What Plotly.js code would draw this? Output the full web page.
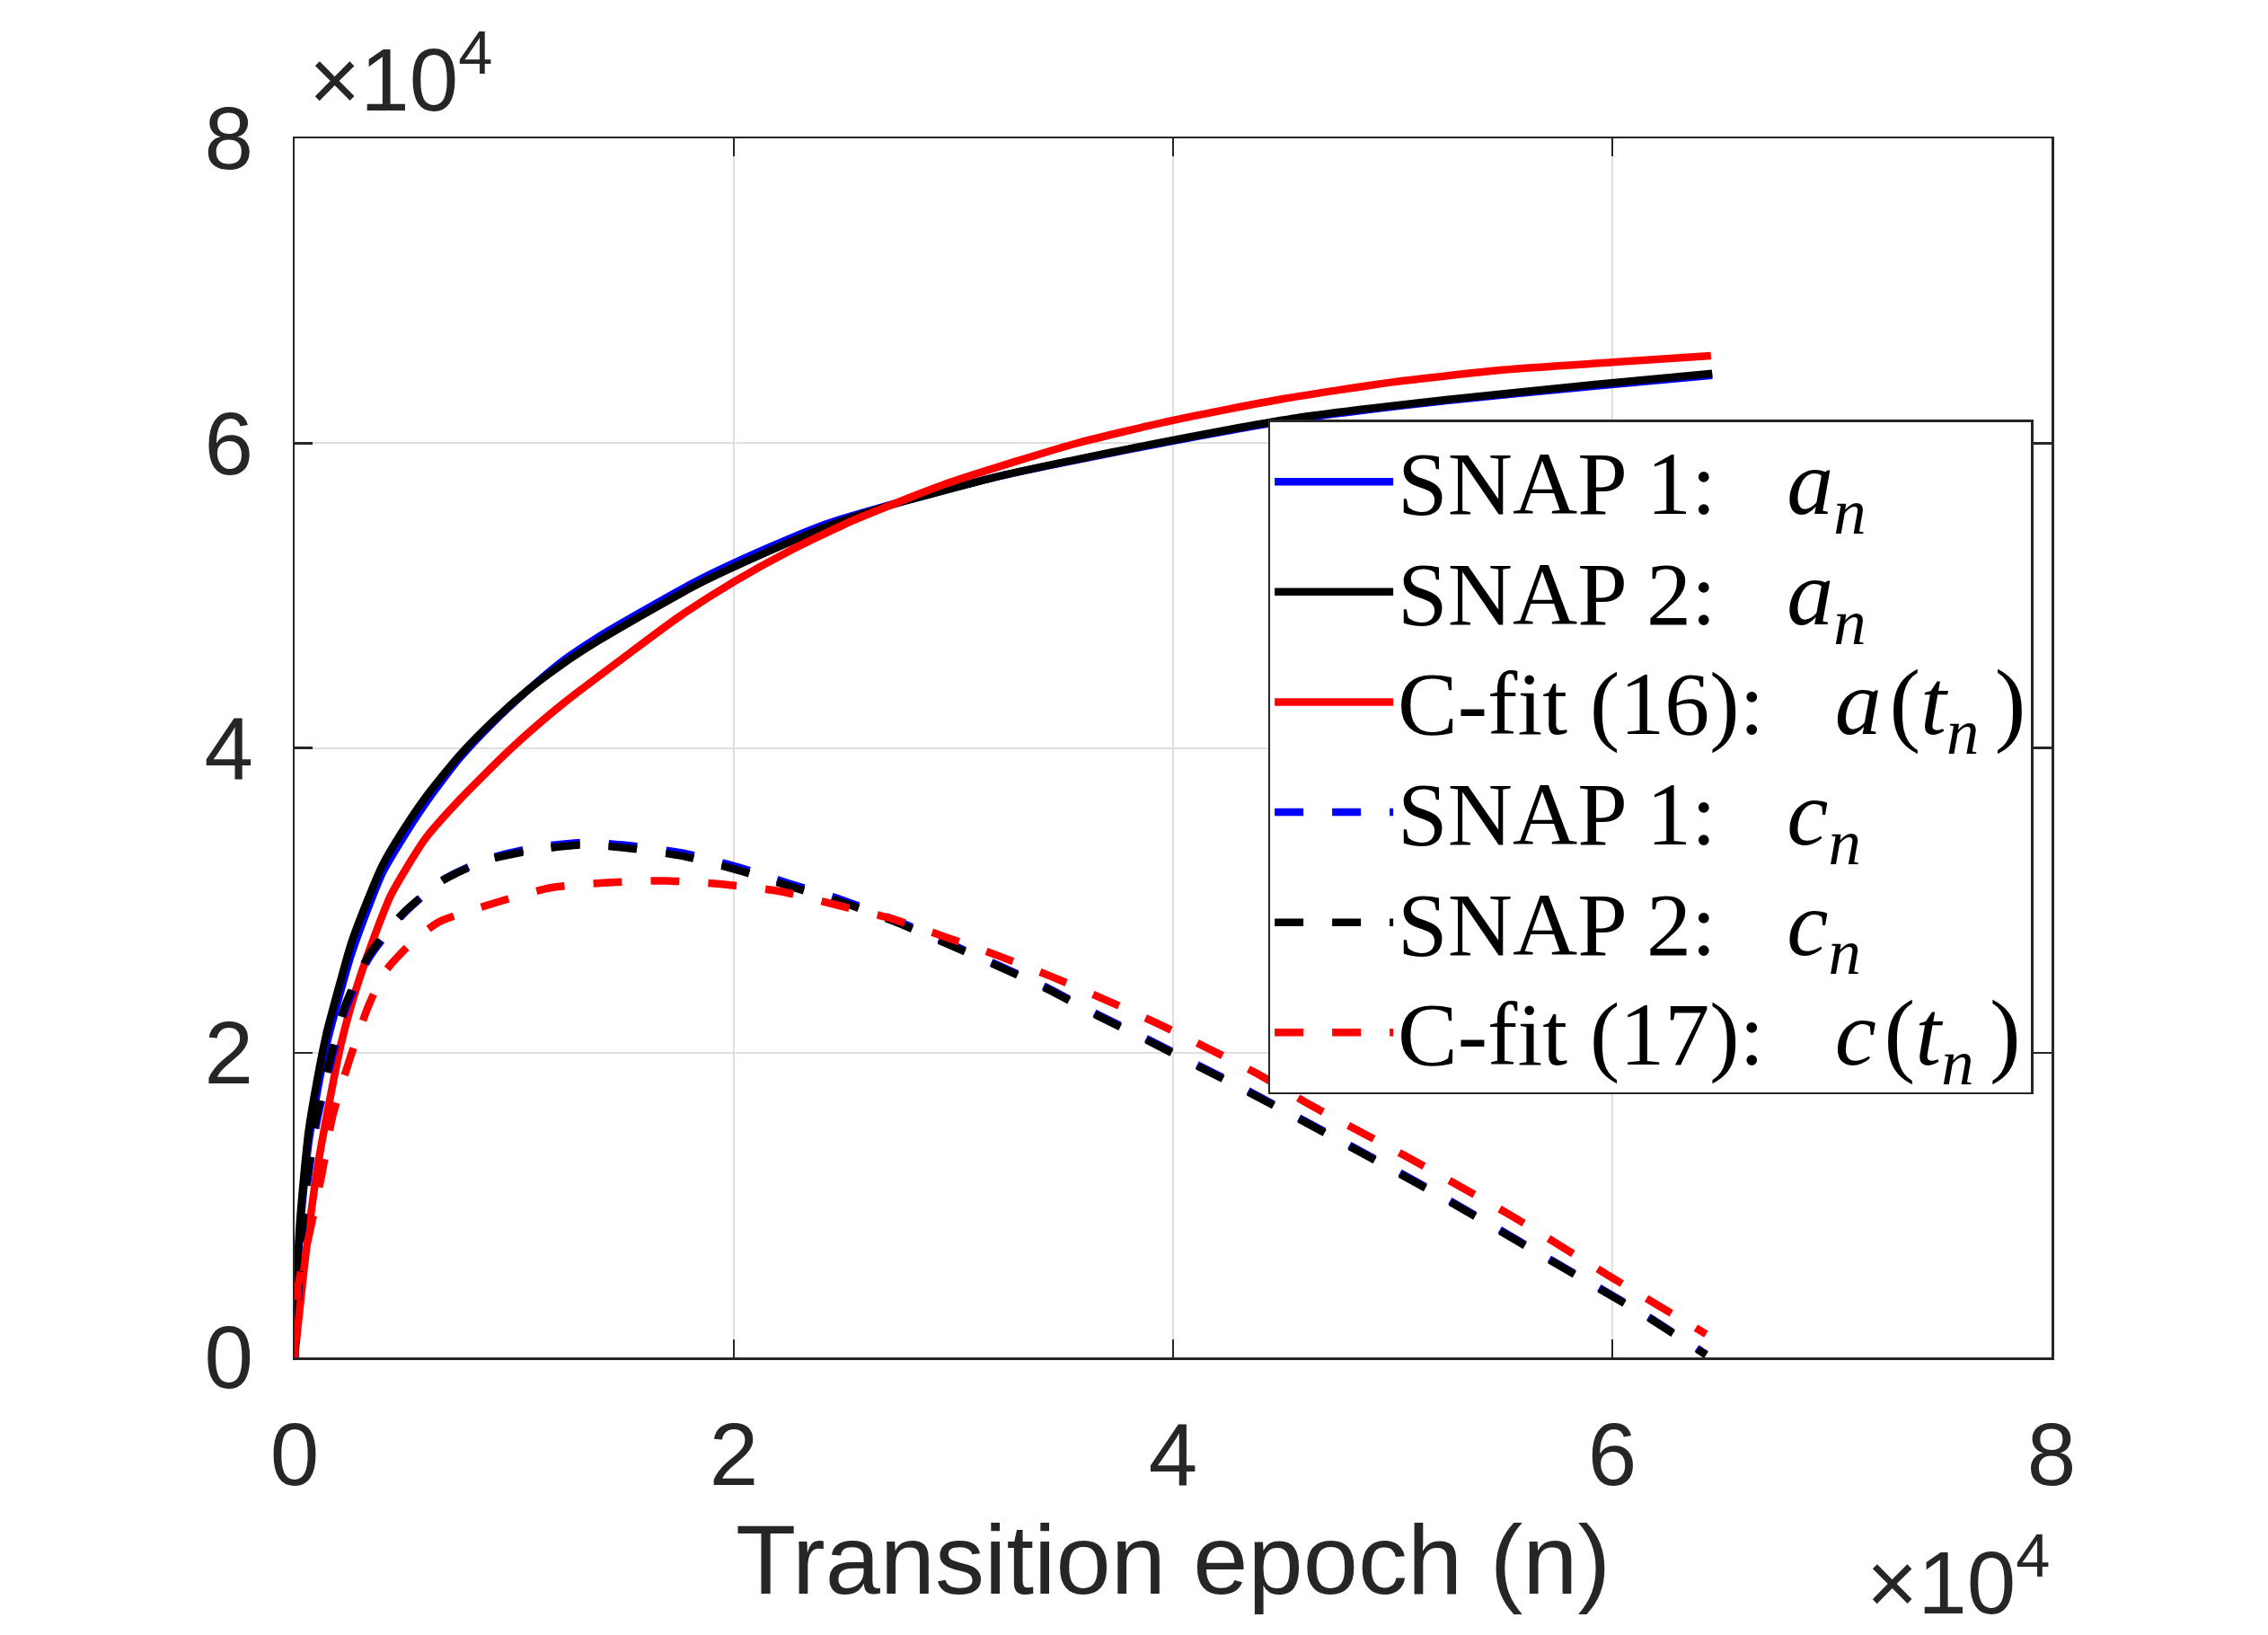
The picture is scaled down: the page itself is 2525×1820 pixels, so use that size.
<!DOCTYPE html>
<html>
<head>
<meta charset="utf-8">
<script src="https://cdn.plot.ly/plotly-3.0.1.min.js"></script>
<style>
  html, body { margin: 0; padding: 0; background: #fff; }
  #chart { width: 2525px; height: 1820px; }
</style>
</head>
<body>
<div id="chart"></div>
<script>
// a_n curves (solid)
var snapAX = [0, 220, 630, 1040, 1450, 1920, 2570, 3430, 4000, 4680, 5930, 7500, 9060, 10630, 12200, 13800, 15330, 18450, 21590, 24210, 26750, 32170, 38950, 45740, 52520, 59310, 64550];
var snap2AY = [0, 8500, 14780, 18320, 21260, 23810, 27150, 30400, 32300, 34000, 36700, 39500, 41800, 43800, 45500, 47000, 48300, 50800, 52900, 54500, 55760, 57860, 59900, 61680, 62860, 63860, 64570];
var snap1AY = [0, 7900, 14000, 17500, 20500, 23100, 26400, 29800, 31800, 33500, 36300, 39300, 41700, 43800, 45700, 47250, 48550, 51050, 53150, 54700, 55800, 57850, 59850, 61600, 62800, 63750, 64450];

var fitAX = [0, 490, 1040, 1580, 2130, 2810, 3510, 4370, 5930, 7500, 9850, 12200, 15330, 17500, 20000, 22500, 25390, 29800, 35560, 40000, 45000, 50000, 55000, 60000, 64490];
var fitAY = [0, 6540, 12430, 16750, 20670, 24210, 27150, 30300, 34000, 36580, 39950, 42880, 46300, 48600, 50900, 52900, 54900, 57400, 59970, 61500, 62900, 64000, 64800, 65300, 65730];

// c_n curves (dashed)
var snapCX = [0, 456, 1000, 1600, 2300, 3380, 4920, 6720, 8750, 10940, 13210, 15480, 17830, 20250, 22520, 24860, 27260, 29680, 32010, 34350, 36540, 38880, 41140, 43410, 47970, 52540, 56970, 61530, 64270];
var snap2CY = [0, 10500, 15900, 19500, 23100, 26400, 29130, 31280, 32630, 33300, 33640, 33370, 32850, 31950, 30930, 29900, 28630, 27150, 25680, 24120, 22440, 20770, 19100, 17430, 13900, 10270, 6540, 2710, 160];
var snap1CY = [0, 10000, 15400, 19100, 22800, 26200, 29050, 31300, 32700, 33450, 33800, 33550, 33050, 32150, 31100, 30050, 28750, 27250, 25750, 24200, 22520, 20850, 19180, 17500, 13980, 10340, 6600, 2760, 200];

var fitCX = [0, 150, 700, 1240, 1720, 2470, 3350, 4110, 5390, 6560, 9060, 11650, 14230, 16890, 19470, 22060, 24640, 27120, 29650, 32090, 34520, 36930, 39320, 41650, 43840, 46270, 50710, 55410, 59840, 64270];
var fitCY = [0, 4590, 8300, 12030, 15770, 19400, 23030, 25300, 27300, 28570, 29800, 30820, 31160, 31280, 31050, 30600, 29700, 28820, 27580, 26330, 24960, 23460, 21890, 20240, 18610, 16550, 13120, 9290, 5360, 1530];

var tickVals = [0, 20000, 40000, 60000, 80000];
var tickText = ['0', '2', '4', '6', '8'];

function math(s) {
    return '<span style="font-size:104px">' + s + '</span>';
}
var gap = '\u2002\u2009\u200a';
var hair = '\u200a';
var seriesNames = [
    'SNAP 1:' + gap + math('<i>a</i><sub><i>n</i></sub>'),
    'SNAP 2:' + gap + math('<i>a</i><sub><i>n</i></sub>'),
    'C-fit (16):' + gap + math('<i>a</i>' + hair + '(<i>t</i><sub><i>n</i></sub>' + hair + hair + ')'),
    'SNAP 1:' + gap + math('<i>c</i><sub><i>n</i></sub>'),
    'SNAP 2:' + gap + math('<i>c</i><sub><i>n</i></sub>'),
    'C-fit (17):' + gap + math('<i>c</i>' + hair + '(<i>t</i><sub><i>n</i></sub>' + hair + hair + ')')
];

var lw = 8.5;
var dashPattern = '32px,32px';
var axisColor = '#262626';

function makeTrace(x, y, name, color, dash) {
    return {
        x: x,
        y: y,
        type: 'scatter',
        mode: 'lines',
        // bigger glyphs than the legend row height would give
        name: '<span style="font-size:100px">' + name + '</span>',
        line: { color: color, width: lw, dash: dash, shape: 'spline', smoothing: 0.6 },
        hoverinfo: 'skip'
    };
}

var data = [
    makeTrace(snapAX, snap1AY, seriesNames[0], '#0000ff', 'solid'),
    makeTrace(snapAX, snap2AY, seriesNames[1], '#000000', 'solid'),
    makeTrace(fitAX, fitAY, seriesNames[2], '#ff0000', 'solid'),
    makeTrace(snapCX, snap1CY, seriesNames[3], '#0000ff', dashPattern),
    makeTrace(snapCX, snap2CY, seriesNames[4], '#000000', dashPattern),
    makeTrace(fitCX, fitCY, seriesNames[5], '#ff0000', dashPattern)
];

var axisCommon = {
    range: [0, 80000],
    tickmode: 'array',
    tickvals: tickVals,
    ticktext: tickText,
    ticks: 'inside',
    ticklen: 20,
    tickwidth: 2.5,
    tickcolor: axisColor,
    showline: true,
    linecolor: axisColor,
    linewidth: 2.5,
    mirror: 'ticks',
    showgrid: true,
    gridcolor: '#dfdfdf',
    gridwidth: 2,
    zeroline: false,
    tickfont: { family: 'Liberation Sans, Arial, sans-serif', size: 98, color: axisColor },
    automargin: false,
    fixedrange: true
};

var layout = {
    width: 2525,
    height: 1820,
    margin: { l: 328, r: 241, t: 154, b: 309, pad: 0 },
    paper_bgcolor: '#ffffff',
    plot_bgcolor: '#ffffff',
    showlegend: true,
    xaxis: Object.assign({}, axisCommon, {
        ticklabelstandoff: 22,
        title: {
            text: 'Transition epoch (n)',
            font: { family: 'Liberation Sans, Arial, sans-serif', size: 110, color: axisColor },
            standoff: 20
        }
    }),
    yaxis: Object.assign({}, axisCommon, {
        ticklabelstandoff: 24
    }),
    legend: {
        x: 0.554,
        y: 0.769,
        xanchor: 'left',
        yanchor: 'top',
        bgcolor: '#ffffff',
        bordercolor: axisColor,
        borderwidth: 2.5,
        itemwidth: 132,
        font: { family: 'Liberation Serif, Times New Roman, serif', size: 92, color: '#000000' },
        tracegroupgap: 0
    },
    annotations: [
        {
            xref: 'paper', yref: 'paper',
            x: 0.007, y: 1.0,
            xanchor: 'left', yanchor: 'bottom',
            yshift: 8,
            showarrow: false,
            text: '\u00d710<sup>4</sup>',
            font: { family: 'Liberation Sans, Arial, sans-serif', size: 98, color: axisColor }
        },
        {
            xref: 'paper', yref: 'paper',
            x: 1.0, y: 0,
            xanchor: 'right', yanchor: 'top',
            yshift: -180,
            showarrow: false,
            text: '\u00d710<sup>4</sup>',
            font: { family: 'Liberation Sans, Arial, sans-serif', size: 98, color: axisColor }
        }
    ]
};

Plotly.newPlot('chart', data, layout, { staticPlot: true, displayModeBar: false });
</script>
</body>
</html>
